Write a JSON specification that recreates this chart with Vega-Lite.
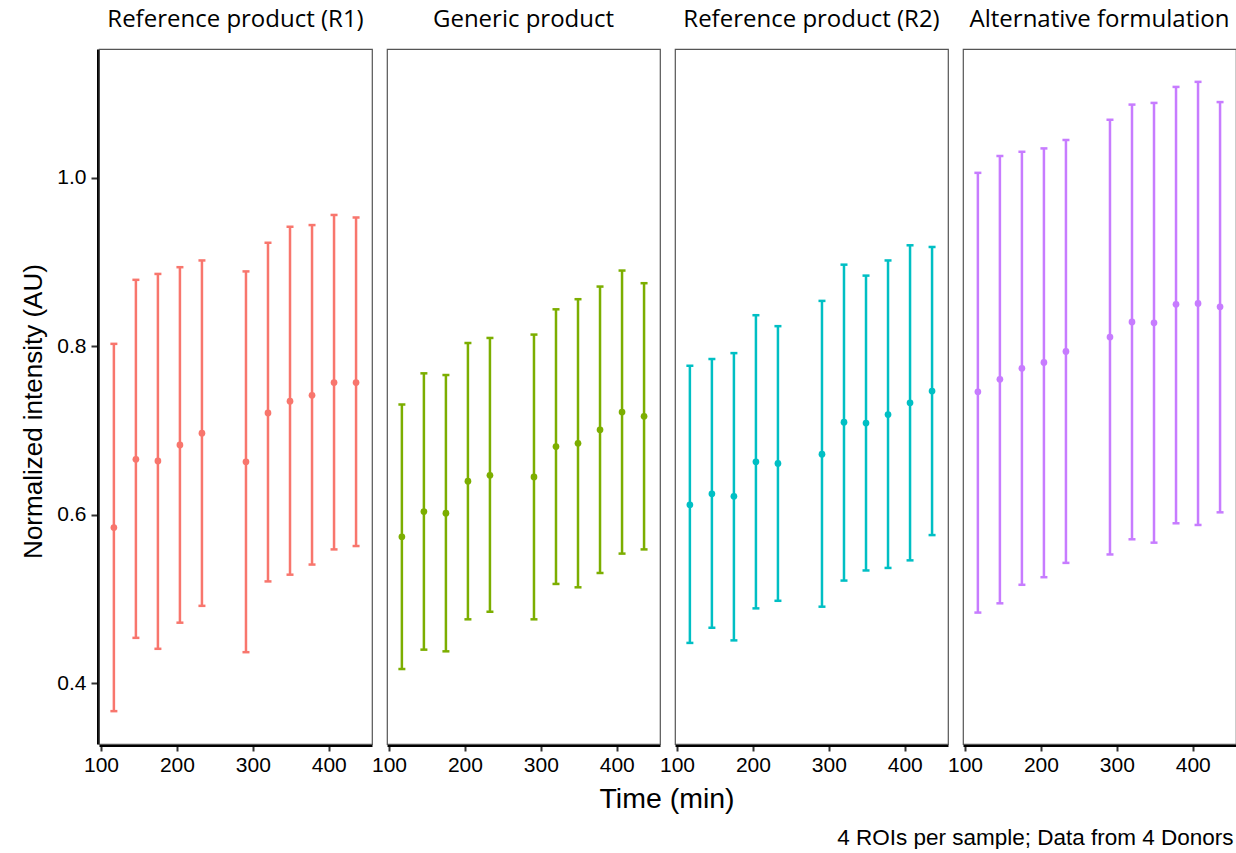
{
  "$schema": "https://vega.github.io/schema/vega-lite/v6.json",
  "autosize": {"type": "pad"},
  "padding": {"left": 20, "top": 8, "right": 0, "bottom": 0},
  "background": "white",
  "data": {"values": [
    {"product": "Reference product (R1)", "time": 117, "mean": 0.585, "lo": 0.367, "hi": 0.803},
    {"product": "Reference product (R1)", "time": 146, "mean": 0.666, "lo": 0.454, "hi": 0.879},
    {"product": "Reference product (R1)", "time": 175, "mean": 0.664, "lo": 0.441, "hi": 0.886},
    {"product": "Reference product (R1)", "time": 204, "mean": 0.683, "lo": 0.472, "hi": 0.894},
    {"product": "Reference product (R1)", "time": 233, "mean": 0.697, "lo": 0.492, "hi": 0.902},
    {"product": "Reference product (R1)", "time": 291, "mean": 0.663, "lo": 0.437, "hi": 0.889},
    {"product": "Reference product (R1)", "time": 320, "mean": 0.721, "lo": 0.521, "hi": 0.923},
    {"product": "Reference product (R1)", "time": 349, "mean": 0.735, "lo": 0.529, "hi": 0.942},
    {"product": "Reference product (R1)", "time": 378, "mean": 0.742, "lo": 0.541, "hi": 0.944},
    {"product": "Reference product (R1)", "time": 407, "mean": 0.757, "lo": 0.559, "hi": 0.956},
    {"product": "Reference product (R1)", "time": 436, "mean": 0.757, "lo": 0.563, "hi": 0.953},
    {"product": "Generic product", "time": 117, "mean": 0.574, "lo": 0.417, "hi": 0.731},
    {"product": "Generic product", "time": 146, "mean": 0.604, "lo": 0.440, "hi": 0.768},
    {"product": "Generic product", "time": 175, "mean": 0.602, "lo": 0.438, "hi": 0.766},
    {"product": "Generic product", "time": 204, "mean": 0.640, "lo": 0.476, "hi": 0.804},
    {"product": "Generic product", "time": 233, "mean": 0.647, "lo": 0.485, "hi": 0.810},
    {"product": "Generic product", "time": 291, "mean": 0.645, "lo": 0.476, "hi": 0.814},
    {"product": "Generic product", "time": 320, "mean": 0.681, "lo": 0.518, "hi": 0.844},
    {"product": "Generic product", "time": 349, "mean": 0.685, "lo": 0.514, "hi": 0.856},
    {"product": "Generic product", "time": 378, "mean": 0.701, "lo": 0.531, "hi": 0.871},
    {"product": "Generic product", "time": 407, "mean": 0.722, "lo": 0.554, "hi": 0.890},
    {"product": "Generic product", "time": 436, "mean": 0.717, "lo": 0.559, "hi": 0.875},
    {"product": "Reference product (R2)", "time": 117, "mean": 0.612, "lo": 0.448, "hi": 0.777},
    {"product": "Reference product (R2)", "time": 146, "mean": 0.625, "lo": 0.466, "hi": 0.785},
    {"product": "Reference product (R2)", "time": 175, "mean": 0.622, "lo": 0.451, "hi": 0.792},
    {"product": "Reference product (R2)", "time": 204, "mean": 0.663, "lo": 0.489, "hi": 0.837},
    {"product": "Reference product (R2)", "time": 233, "mean": 0.661, "lo": 0.498, "hi": 0.824},
    {"product": "Reference product (R2)", "time": 291, "mean": 0.672, "lo": 0.491, "hi": 0.854},
    {"product": "Reference product (R2)", "time": 320, "mean": 0.710, "lo": 0.522, "hi": 0.897},
    {"product": "Reference product (R2)", "time": 349, "mean": 0.709, "lo": 0.534, "hi": 0.884},
    {"product": "Reference product (R2)", "time": 378, "mean": 0.719, "lo": 0.537, "hi": 0.902},
    {"product": "Reference product (R2)", "time": 407, "mean": 0.733, "lo": 0.546, "hi": 0.920},
    {"product": "Reference product (R2)", "time": 436, "mean": 0.747, "lo": 0.576, "hi": 0.918},
    {"product": "Alternative formulation", "time": 117, "mean": 0.746, "lo": 0.484, "hi": 1.006},
    {"product": "Alternative formulation", "time": 146, "mean": 0.761, "lo": 0.495, "hi": 1.026},
    {"product": "Alternative formulation", "time": 175, "mean": 0.774, "lo": 0.517, "hi": 1.031},
    {"product": "Alternative formulation", "time": 204, "mean": 0.781, "lo": 0.526, "hi": 1.035},
    {"product": "Alternative formulation", "time": 233, "mean": 0.794, "lo": 0.543, "hi": 1.045},
    {"product": "Alternative formulation", "time": 291, "mean": 0.811, "lo": 0.553, "hi": 1.069},
    {"product": "Alternative formulation", "time": 320, "mean": 0.829, "lo": 0.571, "hi": 1.087},
    {"product": "Alternative formulation", "time": 349, "mean": 0.828, "lo": 0.567, "hi": 1.089},
    {"product": "Alternative formulation", "time": 378, "mean": 0.850, "lo": 0.590, "hi": 1.108},
    {"product": "Alternative formulation", "time": 407, "mean": 0.851, "lo": 0.588, "hi": 1.114},
    {"product": "Alternative formulation", "time": 436, "mean": 0.847, "lo": 0.603, "hi": 1.090}
  ]},
  "title": {
    "text": "4 ROIs per sample; Data from 4 Donors",
    "orient": "bottom",
    "anchor": "end",
    "font": "Liberation Sans",
    "fontSize": 22.5,
    "fontWeight": "normal",
    "color": "black",
    "offset": 13,
    "dx": -3
  },
  "facet": {
    "column": {
      "field": "product",
      "type": "nominal",
      "sort": ["Reference product (R1)", "Generic product", "Reference product (R2)", "Alternative formulation"],
      "header": {
        "title": "Time (min)",
        "titleOrient": "bottom",
        "titleFont": "Liberation Sans",
        "titleFontSize": 28.5,
        "titleFontWeight": "normal",
        "titleColor": "black",
        "titlePadding": 0,
        "labelOrient": "top",
        "labelFont": "Open Sans",
        "labelFontSize": 24,
        "labelColor": "black",
        "labelPadding": 16
      }
    }
  },
  "spacing": 13,
  "spec": {
    "width": 273,
    "height": 695,
    "encoding": {
      "x": {
        "field": "time",
        "type": "quantitative",
        "scale": {"domain": [97.4, 457], "nice": false, "zero": false},
        "axis": {
          "title": null,
          "values": [100, 200, 300, 400],
          "grid": false,
          "labelFlush": false,
          "domainColor": "black",
          "domainWidth": 3,
          "tickColor": "#333",
          "tickWidth": 2,
          "tickSize": 6,
          "labelFont": "Liberation Sans",
          "labelFontSize": 21,
          "labelColor": "black",
          "labelPadding": 3
        }
      },
      "color": {
        "field": "product",
        "type": "nominal",
        "scale": {
          "domain": ["Reference product (R1)", "Generic product", "Reference product (R2)", "Alternative formulation"],
          "range": ["#F8766D", "#7CAE00", "#00BFC4", "#C77CFF"]
        },
        "legend": null
      }
    },
    "layer": [
      {
        "mark": {"type": "rule", "strokeWidth": 2.5},
        "encoding": {
          "y": {
            "field": "lo",
            "type": "quantitative",
            "scale": {"domain": [0.328, 1.153], "nice": false, "zero": false},
            "axis": {
              "title": "Normalized intensity (AU)",
              "titleFont": "Liberation Sans",
              "titleFontSize": 26,
              "titleFontWeight": "normal",
              "titleColor": "black",
              "titlePadding": 10,
              "titleY": 362,
              "values": [0.4, 0.6, 0.8, 1.0],
              "format": ".1f",
              "grid": false,
              "labelFlush": false,
              "domainColor": "black",
              "domainWidth": 3,
              "tickColor": "#333",
              "tickWidth": 2,
              "tickSize": 7,
              "labelFont": "Liberation Sans",
              "labelFontSize": 21,
              "labelColor": "black",
              "labelPadding": 5
            }
          },
          "y2": {"field": "hi"}
        }
      },
      {
        "mark": {"type": "tick", "orient": "horizontal", "size": 7, "thickness": 2.5, "opacity": 1},
        "encoding": {"y": {"field": "lo", "type": "quantitative"}}
      },
      {
        "mark": {"type": "tick", "orient": "horizontal", "size": 7, "thickness": 2.5, "opacity": 1},
        "encoding": {"y": {"field": "hi", "type": "quantitative"}}
      },
      {
        "mark": {"type": "point", "filled": true, "size": 45, "opacity": 1},
        "encoding": {"y": {"field": "mean", "type": "quantitative"}}
      }
    ]
  },
  "config": {
    "view": {"stroke": "#555", "strokeWidth": 1.2}
  }
}
